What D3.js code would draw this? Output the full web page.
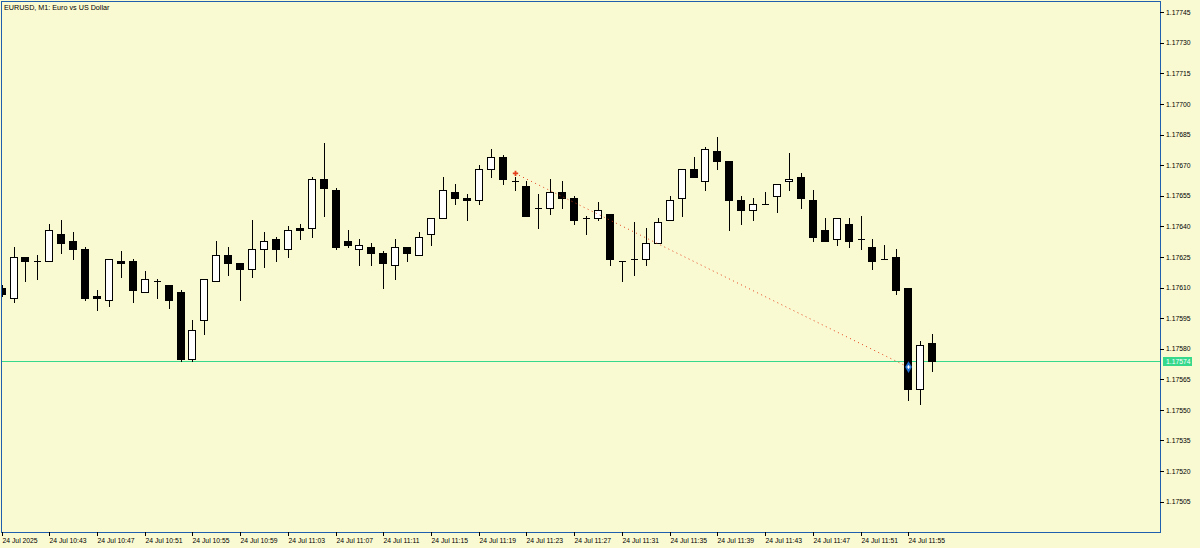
<!DOCTYPE html>
<html>
<head>
<meta charset="utf-8">
<script src="https://cdn.jsdelivr.net/npm/d3@7"></script>
<style>
    html, body { margin: 0; padding: 0; background: #fafad2; }
    svg { display: block; }
</style>
</head>
<body>
<svg class="chart" width="1200" height="548"></svg>
<script>
const title = "EURUSD, M1:  Euro vs US Dollar";

// M1 bars, 24 Jul 2025 from 10:39
const opens = [1.17610,1.17605,1.17625,1.17623,1.17623,1.17636,1.17633,1.17629,1.17606,1.17604,
    1.17623,1.17623,1.17608,1.17613,1.17611,1.17608,1.17575,1.17594,1.17613,1.17626,
    1.17622,1.17619,1.17629,1.17634,1.17629,1.17639,1.17639,1.17663,1.17658,1.17633,
    1.17629,1.17630,1.17627,1.17621,1.17630,1.17626,1.17636,1.17644,1.17657,1.17654,
    1.17653,1.17668,1.17674,1.17662,1.17660,1.17649,1.17649,1.17657,1.17654,1.17644,
    1.17644,1.17646,1.17623,1.17624,1.17624,1.17632,1.17643,1.17654,1.17668,1.17662,
    1.17677,1.17672,1.17653,1.17648,1.17651,1.17655,1.17662,1.17664,1.17653,1.17638,
    1.17634,1.17641,1.17634,1.17630,1.17624,1.17625,1.17610,1.17560,1.17583];
const highs = [1.17611,1.17630,1.17625,1.17626,1.17641,1.17643,1.17637,1.17630,1.17609,1.17624,
    1.17628,1.17624,1.17618,1.17614,1.17611,1.17609,1.17594,1.17614,1.17633,1.17630,
    1.17622,1.17643,1.17637,1.17635,1.17640,1.17641,1.17664,1.17681,1.17659,1.17638,
    1.17634,1.17632,1.17628,1.17634,1.17630,1.17637,1.17644,1.17664,1.17661,1.17656,
    1.17670,1.17678,1.17675,1.17664,1.17662,1.17656,1.17663,1.17662,1.17655,1.17645,
    1.17652,1.17646,1.17623,1.17642,1.17639,1.17644,1.17655,1.17668,1.17674,1.17679,
    1.17684,1.17672,1.17655,1.17654,1.17657,1.17661,1.17676,1.17666,1.17658,1.17644,
    1.17644,1.17644,1.17645,1.17634,1.17631,1.17629,1.17610,1.17584,1.17587];
const lows = [1.17606,1.17603,1.17613,1.17614,1.17623,1.17627,1.17624,1.17604,1.17599,1.17601,
    1.17615,1.17603,1.17608,1.17605,1.17600,1.17574,1.17574,1.17587,1.17613,1.17616,
    1.17604,1.17615,1.17620,1.17623,1.17625,1.17634,1.17635,1.17645,1.17629,1.17630,
    1.17621,1.17621,1.17610,1.17614,1.17623,1.17626,1.17631,1.17644,1.17651,1.17643,
    1.17651,1.17664,1.17661,1.17658,1.17645,1.17639,1.17646,1.17649,1.17641,1.17636,
    1.17643,1.17621,1.17613,1.17616,1.17621,1.17632,1.17643,1.17645,1.17664,1.17658,
    1.17668,1.17638,1.17641,1.17643,1.17651,1.17647,1.17658,1.17649,1.17633,1.17633,
    1.17631,1.17630,1.17629,1.17619,1.17624,1.17607,1.17555,1.17553,1.17569];
const closes = [1.17607,1.17625,1.17623,1.17623,1.17638,1.17632,1.17629,1.17605,1.17605,1.17624,
    1.17622,1.17609,1.17614,1.17613,1.17604,1.17575,1.17589,1.17614,1.17626,1.17622,
    1.17619,1.17629,1.17633,1.17629,1.17638,1.17638,1.17663,1.17659,1.17630,1.17631,
    1.17631,1.17627,1.17622,1.17630,1.17627,1.17635,1.17644,1.17658,1.17654,1.17653,
    1.17668,1.17674,1.17663,1.17662,1.17645,1.17649,1.17657,1.17654,1.17643,1.17644,
    1.17648,1.17624,1.17623,1.17624,1.17632,1.17642,1.17653,1.17668,1.17664,1.17678,
    1.17672,1.17653,1.17648,1.17651,1.17651,1.17661,1.17663,1.17654,1.17635,1.17633,
    1.17644,1.17633,1.17634,1.17623,1.17624,1.17609,1.17560,1.17582,1.17574];

const bid = 1.17574;
const tradeBars = [43, 76];
const tradePrices = [1.17666, 1.17571];

const yTicks = [1.17505,1.17520,1.17535,1.17550,1.17565,1.17580,1.17595,1.17610,1.17625,
    1.17640,1.17655,1.17670,1.17685,1.17700,1.17715,1.17730,1.17745];
const xTickBars = [0,4,8,12,16,20,24,28,32,36,40,44,48,52,56,60,64,68,72,76];
const xTickLabels = ["24 Jul 2025","24 Jul 10:43","24 Jul 10:47","24 Jul 10:51","24 Jul 10:55",
    "24 Jul 10:59","24 Jul 11:03","24 Jul 11:07","24 Jul 11:11","24 Jul 11:15","24 Jul 11:19",
    "24 Jul 11:23","24 Jul 11:27","24 Jul 11:31","24 Jul 11:35","24 Jul 11:39","24 Jul 11:43",
    "24 Jul 11:47","24 Jul 11:51","24 Jul 11:55"];

const frameColor = "#1f5fae";
const bidColor = "#36d98c";
const font = "'Liberation Sans', Arial, sans-serif";

const svg = d3.select("svg.chart");
const margin = { left: 1, top: 1, right: 1160, bottom: 532 };

svg.append("rect").attr("width", 1200).attr("height", 548).attr("fill", "#fafad2");

const x = d3.scaleLinear()
    .domain([0, opens.length - 1])
    .range([1.6, 932.1])
    .interpolate(d3.interpolateRound);
const y = d3.scaleLinear()
    .domain([1.174901, 1.177505])
    .range([margin.bottom, margin.top]);

svg.append("clipPath").attr("id", "plot")
    .append("rect").attr("x", margin.left + 1).attr("y", margin.top + 1)
    .attr("width", margin.right - margin.left - 1).attr("height", margin.bottom - margin.top - 1);

const g = svg.append("g").attr("clip-path", "url(#plot)");

// bid line
const by = Math.round(y(bid)) + 0.5;
g.append("line")
    .attr("x1", margin.left).attr("x2", margin.right)
    .attr("y1", by).attr("y2", by)
    .attr("stroke", bidColor).attr("stroke-width", 1);

const bars = d3.range(opens.length).map(i => ({ i, o: opens[i], h: highs[i], l: lows[i], c: closes[i] }));

const candle = g.selectAll(".candle")
    .data(bars)
    .enter().append("g")
    .attr("class", "candle")
    .attr("shape-rendering", "crispEdges");

candle.append("line")
    .attr("x1", d => x(d.i) + 0.5)
    .attr("x2", d => x(d.i) + 0.5)
    .attr("y1", d => Math.round(y(d.h)))
    .attr("y2", d => Math.round(y(d.l)) + 1)
    .attr("stroke", "#000");

candle.append("path")
    .attr("d", d => {
        const px = x(d.i);
        const t = Math.round(y(Math.max(d.o, d.c))) + 0.5;
        const b = Math.round(y(Math.min(d.o, d.c))) + 0.5;
        return `M${px - 3.5},${t}H${px + 3.5}V${b}H${px - 3.5}Z`;
    })
    .attr("fill", d => d.c >= d.o ? "#fff" : "#000")
    .attr("stroke", "#000");

// trade history: open -> close
g.append("line")
    .attr("x1", x(tradeBars[0])).attr("y1", y(tradePrices[0]))
    .attr("x2", x(tradeBars[1])).attr("y2", y(tradePrices[1]))
    .attr("stroke", "#e2401c")
    .attr("stroke-width", 1)
    .attr("stroke-dasharray", "1,3.5");

g.append("path")
    .attr("transform", `translate(${x(tradeBars[0]) + 0.5}, ${y(tradePrices[0])})`)
    .attr("d", d3.symbol(d3.symbolCross).size(16)())
    .attr("fill", "#e2401c");

g.append("path")
    .attr("transform", `translate(${x(tradeBars[1]) + 0.5}, ${y(tradePrices[1])})`)
    .attr("d", d3.symbol(d3.symbolDiamond).size(40)())
    .attr("fill", "#1e6fd0");
g.append("path")
    .attr("transform", `translate(${x(tradeBars[1]) + 0.5}, ${y(tradePrices[1])})`)
    .attr("d", d3.symbol(d3.symbolCross).size(7)())
    .attr("fill", "#fff");

// frame
svg.append("path")
    .attr("d", `M${margin.left + 0.5},${margin.bottom + 0.5}V${margin.top + 0.5}H${margin.right + 0.5}V${margin.bottom + 0.5}H${margin.left + 0.5}`)
    .attr("fill", "none")
    .attr("stroke", frameColor)
    .attr("shape-rendering", "crispEdges");

// price axis
const yAxis = svg.append("g")
    .attr("transform", `translate(${margin.right}, 0)`)
    .call(d3.axisRight(y)
        .tickValues(yTicks)
        .tickSize(4)
        .tickPadding(2)
        .tickFormat(d3.format(".5f")));
yAxis.select(".domain").remove();
yAxis.selectAll(".tick line").attr("stroke", "#000").attr("shape-rendering", "crispEdges");
yAxis.selectAll("text")
    .attr("fill", "#000")
    .style("font", `6.8px ${font}`);

// bid label
svg.append("rect")
    .attr("x", 1163).attr("y", by - 4.5)
    .attr("width", 29).attr("height", 9)
    .attr("fill", bidColor);
svg.append("text")
    .attr("x", 1166).attr("y", by + 2.5)
    .attr("fill", "#fff")
    .style("font", `6.8px ${font}`)
    .text(d3.format(".5f")(bid));

// time axis
const xAxis = svg.append("g")
    .attr("transform", `translate(0, ${margin.bottom})`)
    .call(d3.axisBottom(x)
        .tickValues(xTickBars)
        .tickSize(4)
        .tickPadding(2)
        .tickFormat((d, k) => xTickLabels[k]));
xAxis.select(".domain").remove();
xAxis.selectAll(".tick line").attr("stroke", "#000").attr("shape-rendering", "crispEdges");
xAxis.selectAll("text")
    .attr("fill", "#000")
    .attr("text-anchor", "start")
    .style("font", `6.8px ${font}`);

svg.append("text")
    .attr("x", 4).attr("y", 10)
    .attr("fill", "#000")
    .style("font", `7.2px ${font}`)
    .text(title);
</script>
</body>
</html>
